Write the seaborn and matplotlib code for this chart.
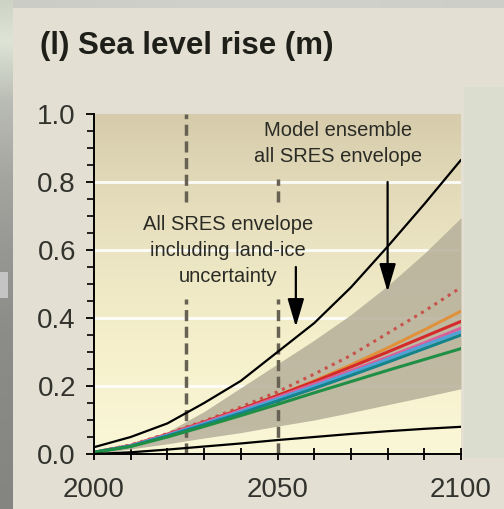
import numpy as np
import pandas as pd
import matplotlib
matplotlib.use("Agg")
import matplotlib.pyplot as plt
from matplotlib.patches import Rectangle
from matplotlib.ticker import MultipleLocator, FixedLocator
import seaborn as sns

# ---- data -------------------------------------------------------------
years = [2000, 2010, 2020, 2030, 2040, 2050, 2060, 2070, 2080, 2090, 2100]

# all-SRES envelope including land-ice uncertainty (black curves)
landice_upper = [0.02, 0.05, 0.09, 0.15, 0.215, 0.30, 0.385, 0.49, 0.61, 0.735, 0.865]
landice_lower = [0.0, 0.005, 0.013, 0.022, 0.031, 0.041, 0.05, 0.059, 0.067, 0.074, 0.08]

# model ensemble, all-SRES envelope (grey band)
ensemble_upper = [0.0, 0.03, 0.065, 0.125, 0.195, 0.265, 0.335, 0.41, 0.495, 0.59, 0.695]
ensemble_lower = [0.0, 0.015, 0.03, 0.047, 0.063, 0.082, 0.1, 0.122, 0.145, 0.168, 0.192]

# scenario model averages
scenarios = ["A1FI", "A2", "A1B", "B2", "A1T", "IS92a", "B1"]
scenario_values = {
    "A1FI":  [0.005, 0.027, 0.06, 0.097, 0.138, 0.183, 0.235, 0.29, 0.355, 0.42, 0.49],
    "A2":    [0.005, 0.025, 0.057, 0.093, 0.131, 0.172, 0.215, 0.262, 0.312, 0.365, 0.42],
    "A1B":   [0.005, 0.025, 0.058, 0.094, 0.132, 0.172, 0.213, 0.256, 0.30, 0.345, 0.39],
    "B2":    [0.005, 0.025, 0.057, 0.092, 0.129, 0.167, 0.206, 0.245, 0.285, 0.327, 0.37],
    "A1T":   [0.005, 0.024, 0.055, 0.089, 0.125, 0.162, 0.20, 0.239, 0.279, 0.32, 0.36],
    "IS92a": [0.005, 0.023, 0.053, 0.086, 0.12, 0.156, 0.193, 0.231, 0.27, 0.31, 0.35],
    "B1":    [0.005, 0.022, 0.05, 0.081, 0.113, 0.146, 0.18, 0.213, 0.246, 0.278, 0.31],
}
scenario_colors = {
    "A1FI": "#c8524a", "A2": "#e0913a", "A1B": "#d42a2a", "B2": "#d8609a",
    "A1T": "#4fa3d8", "IS92a": "#13848a", "B1": "#1f8f45",
}
scenario_dashes = {s: "" for s in scenarios}
scenario_dashes["A1FI"] = (1.0, 1.6)

y_ticks = [0.0, 0.2, 0.4, 0.6, 0.8, 1.0]
y_tick_labels = ["0.0", "0.2", "0.4", "0.6", "0.8", "1.0"]
x_ticks = [2000, 2050, 2100]
x_tick_labels = ["2000", "2050", "2100"]

title = "(l) Sea level rise (m)"
note_ensemble = "Model ensemble\nall SRES envelope"
note_landice = "All SRES envelope\nincluding land-ice\nuncertainty"

# ---- style ------------------------------------------------------------
sns.set_theme(style="white")
plt.rcParams["font.family"] = ["Liberation Sans", "DejaVu Sans"]

W, H = 504, 509
bg = (228 / 255, 223 / 255, 211 / 255)
fig = plt.figure(figsize=(W / 100, H / 100), dpi=100, facecolor=bg)

# side panel on the right
fig.patches.append(Rectangle((464 / W, (H - 458) / H), 40 / W, (458 - 87) / H,
                             transform=fig.transFigure, facecolor=(219 / 255, 221 / 255, 206 / 255),
                             edgecolor="none", zorder=0))

# grey edge strips
left = fig.add_axes([0, 0, 13 / W, 1])
rows = np.linspace(0, 1, 256)
stops = [(0.0, (205, 212, 198)), (0.08, (222, 228, 214)), (0.2, (185, 188, 180)),
         (0.35, (165, 165, 160)), (0.5, (150, 150, 147)), (0.65, (140, 140, 137)),
         (1.0, (132, 132, 128))]
pos = [s[0] for s in stops]
strip = np.stack([np.interp(rows, pos, [s[1][c] for s in stops]) for c in range(3)], axis=-1) / 255
left.imshow(strip[:, None, :], aspect="auto", extent=[0, 1, 1, 0])
left.add_patch(Rectangle((0, 272 / H), 0.6, 26 / H, facecolor=(0.77, 0.77, 0.77), edgecolor="none"))
left.set_xlim(0, 1)
left.set_ylim(1, 0)
left.axis("off")

top = fig.add_axes([13 / W, 1 - 8 / H, 1 - 13 / W, 8 / H])
cols = np.linspace(0, 1, 256)
tstrip = np.stack([np.interp(cols, [0, 0.5, 1], [v, v + 6, v + 2]) for v in (204, 204, 199)], axis=-1) / 255
top.imshow(tstrip[None, :, :], aspect="auto", extent=[0, 1, 0, 1])
top.axis("off")

# ---- main axes ---------------------------------------------------------
ax = fig.add_axes([94 / W, (H - 454) / H, 367 / W, 340 / H])
ax.set_facecolor("none")

# vertical tan-to-cream gradient behind the data
grad_stops = [(0.0, (250, 247, 216)), (0.3, (246, 241, 204)), (0.6, (235, 228, 194)),
              (0.85, (223, 214, 182)), (1.0, (214, 204, 172))]
gy = np.linspace(0, 1, 256)
grad = np.stack([np.interp(gy, [g[0] for g in grad_stops], [g[1][c] for g in grad_stops])
                 for c in range(3)], axis=-1) / 255
ax.imshow(grad[:, None, :], aspect="auto", extent=[2000, 2100, 0, 1], origin="lower", zorder=0)

for yv in [0.2, 0.4, 0.6, 0.8]:
    ax.axhline(yv, color="white", lw=2.0, alpha=0.9, zorder=1)

ax.fill_between(years, ensemble_lower, ensemble_upper, color=(184 / 255, 177 / 255, 156 / 255),
                alpha=0.88, lw=0, zorder=2)

# dashed reference years, broken around the labels
dash_col = (0.40, 0.38, 0.32)
for x0, segs in [(2025, [(0.74, 1.0), (0.0, 0.455)]), (2050, [(0.74, 0.81), (0.0, 0.455)])]:
    for y0, y1 in segs:
        ax.plot([x0, x0], [y0, y1], color=dash_col, lw=2.5, dashes=(3.2, 1.6), zorder=3)

df = pd.DataFrame([(s, yr, v) for s in scenarios for yr, v in zip(years, scenario_values[s])],
                  columns=["scenario", "year", "rise"])
sns.lineplot(data=df, x="year", y="rise", hue="scenario", style="scenario",
             palette=scenario_colors, dashes=scenario_dashes, hue_order=scenarios,
             style_order=scenarios, lw=2.2, legend=False, ax=ax, zorder=4)

sns.lineplot(x=years, y=landice_upper, color="black", lw=1.6, ax=ax, zorder=5)
sns.lineplot(x=years, y=landice_lower, color="black", lw=1.6, ax=ax, zorder=5)

txt_col = (0.17, 0.17, 0.15)
ax.text(2066.5, 0.914, note_ensemble, ha="center", va="center", fontsize=14.5,
        color=txt_col, linespacing=1.45, zorder=6)
ax.text(2036.5, 0.598, note_landice, ha="center", va="center", fontsize=14.5,
        color=txt_col, linespacing=1.45, zorder=6)

arrow = dict(arrowstyle="-|>,head_length=0.95,head_width=0.28", color="black", lw=1.6,
             mutation_scale=18, shrinkA=0, shrinkB=0)
ax.annotate("", xy=(2080, 0.477), xytext=(2080, 0.80), arrowprops=arrow, zorder=6)
ax.annotate("", xy=(2055, 0.374), xytext=(2055, 0.55), arrowprops=arrow, zorder=6)

ax.set_xlim(2000, 2100)
ax.set_ylim(0, 1)
ax.set_xlabel("")
ax.set_ylabel("")

for side in ["top", "right"]:
    ax.spines[side].set_visible(False)
for side in ["left", "bottom"]:
    ax.spines[side].set_color("black")
    ax.spines[side].set_linewidth(1.4)
    ax.spines[side].set_zorder(7)

ax.yaxis.set_major_locator(FixedLocator(y_ticks))
ax.set_yticklabels(y_tick_labels)
ax.yaxis.set_minor_locator(MultipleLocator(0.05))
ax.xaxis.set_major_locator(FixedLocator(x_ticks))
ax.set_xticklabels(x_tick_labels)
ax.xaxis.set_minor_locator(MultipleLocator(10))

ax.tick_params(axis="y", which="major", direction="out", length=6, width=1.3, color="black",
               labelsize=20, labelcolor=(0.2, 0.2, 0.18), pad=7, left=True)
ax.tick_params(axis="y", which="minor", direction="out", length=5, width=1.2, color="black", left=True)
ax.tick_params(axis="x", which="both", direction="inout", length=9, width=1.3, color="black",
               labelsize=20, labelcolor=(0.2, 0.2, 0.18), pad=12, bottom=True)

fig.text(40 / W, 1 - 46 / H, title, ha="left", va="center", fontsize=22.5, fontweight="bold",
         color=(0.12, 0.12, 0.1))

fig.savefig("out.png", dpi=100, facecolor=fig.get_facecolor())
